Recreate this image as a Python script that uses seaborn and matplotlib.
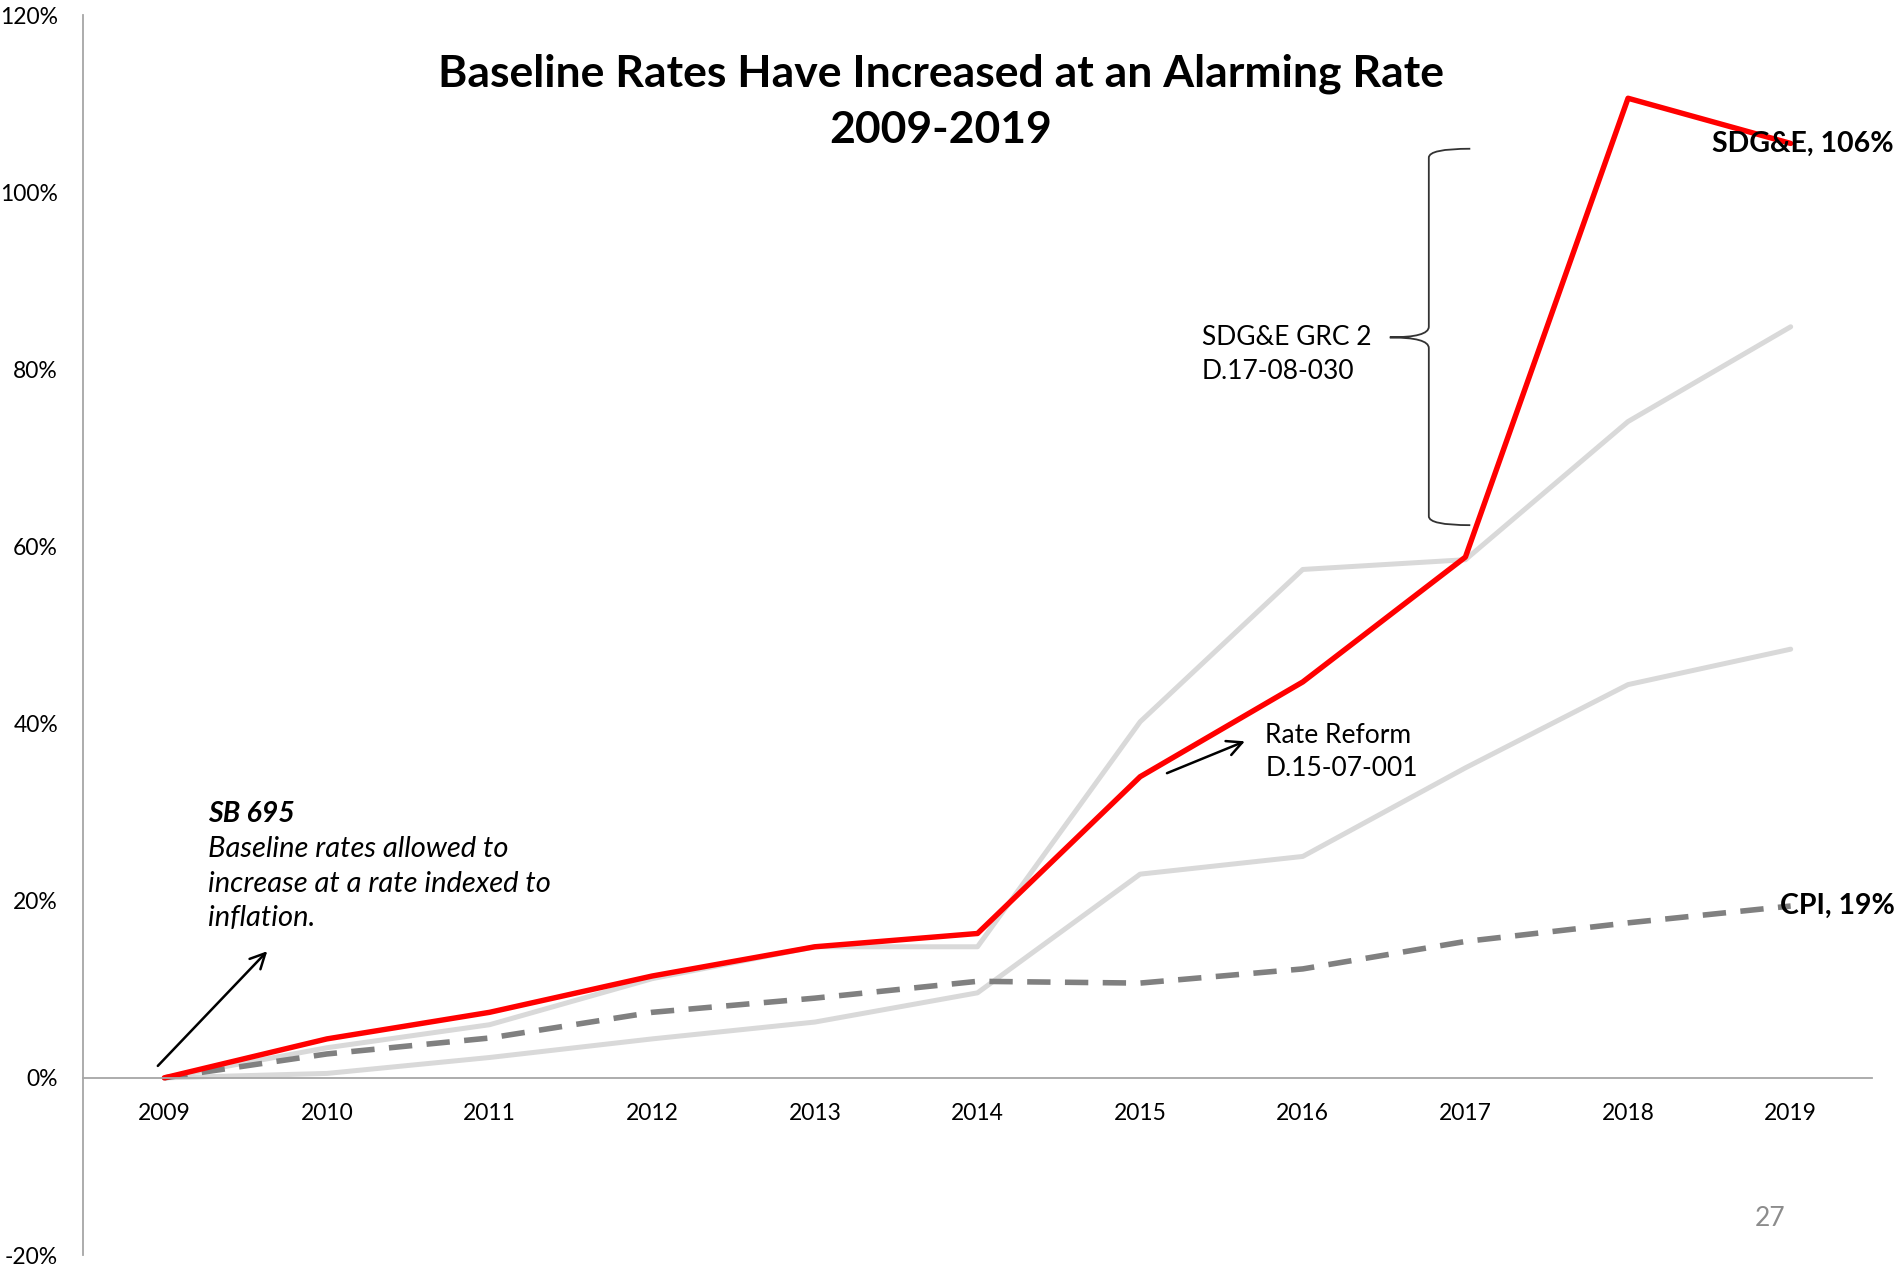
import numpy as np
import pandas as pd
import matplotlib
matplotlib.use("Agg")
import matplotlib.pyplot as plt
import seaborn as sns
from matplotlib.path import Path
from matplotlib.patches import PathPatch

# ---- data (percent change since 2009) ----
years = [2009, 2010, 2011, 2012, 2013, 2014, 2015, 2016, 2017, 2018, 2019]
sdge = [0, 4.4, 7.4, 11.5, 14.8, 16.3, 34.0, 44.7, 58.8, 110.6, 105.5]
gray_upper = [0, 3.4, 6.0, 11.2, 14.8, 14.8, 40.2, 57.4, 58.5, 74.1, 84.8]
gray_lower = [0, 0.5, 2.3, 4.4, 6.3, 9.6, 23.0, 25.0, 35.0, 44.4, 48.4]
cpi = [0, 2.7, 4.5, 7.4, 9.0, 10.9, 10.7, 12.3, 15.4, 17.5, 19.4]
y_ticks = [-20, 0, 20, 40, 60, 80, 100, 120]
y_tick_labels = ["-20%", "0%", "20%", "40%", "60%", "80%", "100%", "120%"]

title_lines = ["Baseline Rates Have Increased at an Alarming Rate", "2009-2019"]

sns.set_theme(style="white")
plt.rcParams["font.family"] = ["Lato", "DejaVu Sans"]
plt.rcParams["text.color"] = "black"

fig = plt.figure(figsize=(18.99, 12.67), dpi=100)
ax = fig.add_axes([83 / 1899, 12 / 1267, (1872 - 83) / 1899, (1255 - 15) / 1267])

df = pd.DataFrame({"year": years, "sdge": sdge, "upper": gray_upper,
                   "lower": gray_lower, "cpi": cpi})

sns.lineplot(data=df, x="year", y="lower", ax=ax, color="#D9D9D9", linewidth=3.6)
sns.lineplot(data=df, x="year", y="upper", ax=ax, color="#D9D9D9", linewidth=3.6)
sns.lineplot(data=df, x="year", y="cpi", ax=ax, color="#808080", linewidth=4.0)
ax.lines[-1].set_dashes([4.2, 2.6])
sns.lineplot(data=df, x="year", y="sdge", ax=ax, color="#FF0000", linewidth=3.9)

ax.set_xlim(2008.5, 2019.5)
ax.set_ylim(-20, 120)
ax.set_xticks(years)
ax.set_xticklabels([str(y) for y in years])
ax.set_yticks(y_ticks)
ax.set_yticklabels(y_tick_labels)
ax.set_xlabel("")
ax.set_ylabel("")

for s in ["top", "right"]:
    ax.spines[s].set_visible(False)
ax.spines["left"].set_color("#A6A6A6")
ax.spines["left"].set_linewidth(1.3)
ax.spines["bottom"].set_position(("data", 0))
ax.spines["bottom"].set_color("#A6A6A6")
ax.spines["bottom"].set_linewidth(1.3)
ax.tick_params(axis="x", length=0, labelsize=16.5, pad=18, colors="black")
ax.tick_params(axis="y", length=0, labelsize=16.5, pad=18, colors="black")

# title
fig.text(941 / 1899, 1 - 74 / 1267, title_lines[0], ha="center", va="center",
         fontsize=32, fontweight="bold", color="black")
fig.text(941 / 1899, 1 - 130 / 1267, title_lines[1], ha="center", va="center",
         fontsize=32, fontweight="bold", color="black")

# end labels
ax.text(2018.516, sdge[-1], "SDG&E, 106%", ha="left", va="center",
        fontsize=20.5, fontweight="bold", color="black")
ax.text(2018.934, cpi[-1], "CPI, 19%", ha="left", va="center",
        fontsize=20.5, fontweight="bold", color="black")

# GRC annotation with brace
ax.text(2015.38, 83.6, "SDG&E GRC 2", ha="left", va="center", fontsize=19, color="black")
ax.text(2015.38, 79.7, "D.17-08-030", ha="left", va="center", fontsize=19, color="black")
xl, xt, xm = 2016.775, 2017.03, 2016.535
yt, yb, ym = 104.9, 62.4, 83.6
verts = [(xt, yt), (xl, yt), (xl, yt - 1.0),
         (xl, ym + 1.2),
         (xl, ym), (xm, ym),
         (xl, ym), (xl, ym - 1.2),
         (xl, yb + 1.0),
         (xl, yb), (xt, yb)]
codes = [Path.MOVETO, Path.CURVE3, Path.CURVE3,
         Path.LINETO,
         Path.CURVE3, Path.CURVE3,
         Path.CURVE3, Path.CURVE3,
         Path.LINETO,
         Path.CURVE3, Path.CURVE3]
ax.add_patch(PathPatch(Path(verts, codes), facecolor="none", edgecolor="#333333", lw=1.3))

# Rate reform annotation
ax.text(2015.77, 38.7, "Rate Reform", ha="left", va="center", fontsize=19, color="black")
ax.text(2015.77, 34.9, "D.15-07-001", ha="left", va="center", fontsize=19, color="black")
ax.annotate("", xy=(2015.644, 38.0), xytext=(2015.165, 34.4),
            arrowprops=dict(arrowstyle="->,head_length=0.9,head_width=0.45",
                            lw=1.8, color="black", shrinkA=0, shrinkB=0))

# SB 695 annotation
ax.text(2009.266, 29.8, "SB 695", ha="left", va="center", fontsize=20.5,
        fontweight="bold", fontstyle="italic", color="black")
sb_lines = ["Baseline rates allowed to", "increase at a rate indexed to", "inflation."]
for txt, yy in zip(sb_lines, [25.85, 21.9, 18.1]):
    ax.text(2009.266, yy, txt, ha="left", va="center", fontsize=21,
            fontstyle="italic", color="black")
ax.annotate("", xy=(2009.633, 14.3), xytext=(2008.96, 1.35),
            arrowprops=dict(arrowstyle="->,head_length=0.9,head_width=0.45",
                            lw=1.8, color="black", shrinkA=0, shrinkB=0))

# page number
fig.text(1770 / 1899, 1 - 1218 / 1267, "27", ha="center", va="center",
         fontsize=19, color="#8C8C8C")

fig.savefig("out.png", dpi=100)
